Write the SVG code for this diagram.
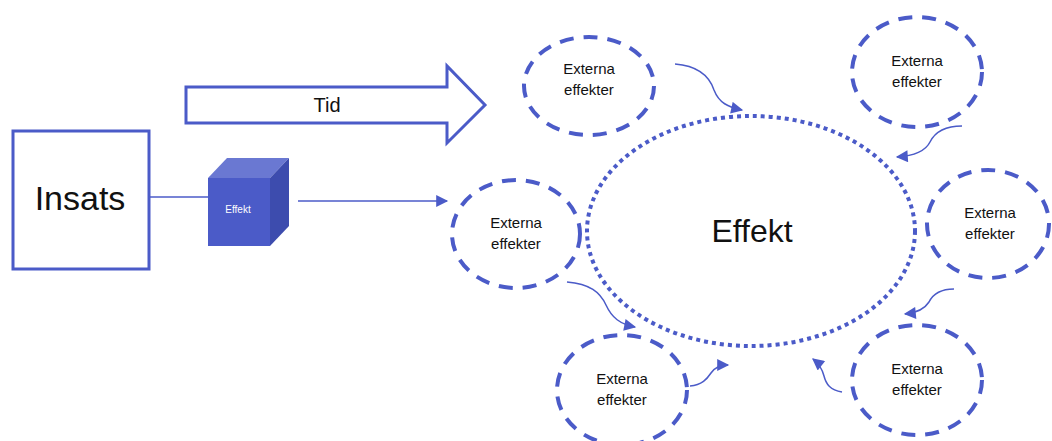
<svg xmlns="http://www.w3.org/2000/svg" width="1052" height="441" viewBox="0 0 1052 441">
  <style>
    .lbl { font-family: "Liberation Sans", Arial, sans-serif; fill: #111; text-anchor: middle; }
    .ext { fill: none; stroke: #4b5bc8; stroke-width: 4; stroke-dasharray: 14 10; }
    .flow { fill: none; stroke: #4b5bc8; stroke-width: 1.5; marker-end: url(#tip); }
  </style>
  <defs>
    <marker id="tip" viewBox="0 0 10 10" refX="9" refY="5" markerWidth="14" markerHeight="12" markerUnits="userSpaceOnUse" orient="auto">
      <path d="M0,0 L10,5 L0,10 z" fill="#4b5bc8"/>
    </marker>
  </defs>
  <rect width="1052" height="441" fill="#fff"/>

  <g id="connectors">
    <line x1="150" y1="197" x2="208" y2="197" stroke="#4b5bc8" stroke-width="1.5"/>
    <line x1="298" y1="201" x2="447" y2="201" class="flow"/>
    <path class="flow" d="M675,64 C700,66 710,78 714,90 C719,103 728,107 742,110"/>
    <path class="flow" d="M962,126 C945,126 935,132 930,142 C925,152 912,156 897,157"/>
    <path class="flow" d="M954,289 C940,289 933,294 929,302 C924,310 915,313 905,314"/>
    <path class="flow" d="M842,392 C830,390 826,384 824,376 C822,368 818,363 813,359"/>
    <path class="flow" d="M690,386 C702,385 707,379 711,373 C715,367 720,365 728,365"/>
    <path class="flow" d="M567,282 C590,284 600,292 606,305 C612,318 620,324 635,327"/>
  </g>

  <g id="insats">
    <rect x="13" y="131" width="136" height="138" fill="#fff" stroke="#4b5bc8" stroke-width="3"/>
    <text class="lbl" x="80" y="210" font-size="34">Insats</text>
  </g>

  <g id="effekt-cube">
    <polygon points="208,178 227,158 289,158 270,178" fill="#6a78d2"/>
    <polygon points="270,178 289,158 289,226 270,246" fill="#3d4cae"/>
    <rect x="208" y="178" width="62" height="68" fill="#4b5bc8"/>
    <text class="lbl" x="238" y="213" font-size="10" style="fill:#fff">Effekt</text>
  </g>

  <g id="tid">
    <path d="M186,87 L447,87 L447,66 L485,105 L447,143 L447,123 L186,123 z" fill="#fff" stroke="#4b5bc8" stroke-width="3" stroke-linejoin="miter"/>
    <text class="lbl" x="327" y="112" font-size="20">Tid</text>
  </g>

  <g id="effekt">
    <ellipse cx="751" cy="231" rx="164" ry="115" fill="none" stroke="#4b5bc8" stroke-width="4" stroke-dasharray="4 4"/>
    <text class="lbl" x="752" y="242" font-size="32">Effekt</text>
  </g>

  <g id="ext-top-left">
    <ellipse class="ext" cx="589" cy="86" rx="65" ry="49"/>
    <text class="lbl" x="589" y="74" font-size="15">Externa</text>
    <text class="lbl" x="589" y="95" font-size="15">effekter</text>
  </g>
  <g id="ext-top-right">
    <ellipse class="ext" cx="917" cy="72" rx="65" ry="55"/>
    <text class="lbl" x="917" y="66" font-size="15">Externa</text>
    <text class="lbl" x="917" y="87" font-size="15">effekter</text>
  </g>
  <g id="ext-left">
    <ellipse class="ext" cx="516" cy="234" rx="64" ry="54"/>
    <text class="lbl" x="516" y="228" font-size="15">Externa</text>
    <text class="lbl" x="516" y="249" font-size="15">effekter</text>
  </g>
  <g id="ext-right">
    <ellipse class="ext" cx="988" cy="224" rx="61" ry="54"/>
    <text class="lbl" x="990" y="218" font-size="15">Externa</text>
    <text class="lbl" x="990" y="239" font-size="15">effekter</text>
  </g>
  <g id="ext-bottom-right">
    <ellipse class="ext" cx="917" cy="380" rx="65" ry="55"/>
    <text class="lbl" x="917" y="374" font-size="15">Externa</text>
    <text class="lbl" x="917" y="395" font-size="15">effekter</text>
  </g>
  <g id="ext-bottom">
    <ellipse class="ext" cx="622" cy="390" rx="65" ry="55"/>
    <text class="lbl" x="622" y="384" font-size="15">Externa</text>
    <text class="lbl" x="622" y="405" font-size="15">effekter</text>
  </g>
</svg>
